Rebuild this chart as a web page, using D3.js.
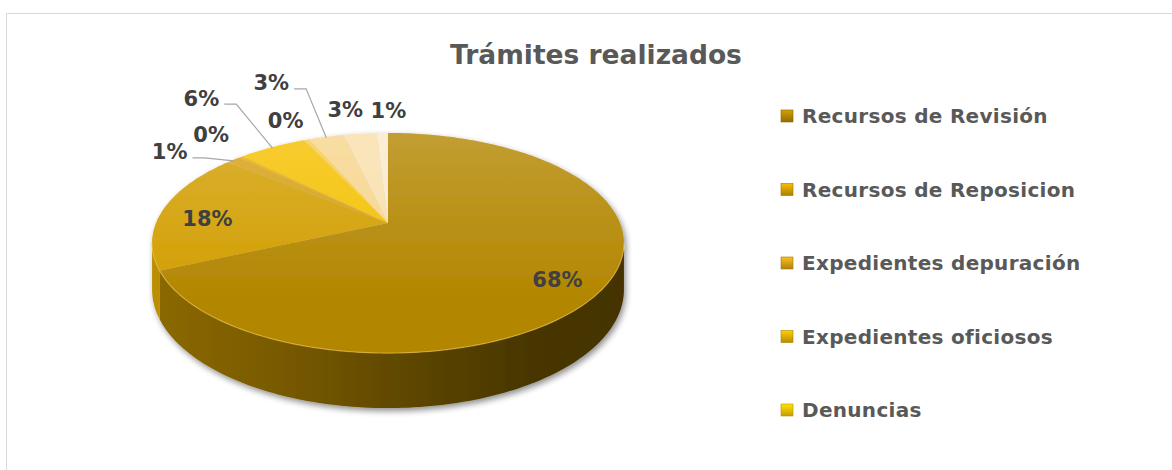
<!DOCTYPE html>
<html>
<head>
<meta charset="utf-8">
<script src="https://cdn.jsdelivr.net/npm/d3@7"></script>
<style>
body { margin: 0; background: #fff; }
svg { display: block; font-family: "DejaVu Sans", sans-serif; }
</style>
</head>
<body>
<svg id="chart"></svg>
<script>
// values (labels are rounded, so the 0% slices keep a sliver)
var categories = ["Recursos de Revisión", "Recursos de Reposicion", "Expedientes depuración",
  "Expedientes oficiosos", "Denuncias", "Categoría 6", "Categoría 7", "Categoría 8", "Categoría 9"];
var values = [68.2, 17.8, 1.2, 0.3, 5.6, 0.4, 2.9, 2.7, 0.9];
var legendCount = 5; // legend in the original is cut after five entries
var title = "Trámites realizados";

// styles, kept apart from the data
var palette = ["#b38600", "#d29e00", "#d6a014", "#e2ad00", "#f5c000", "#f6cc4a", "#f7d58c", "#f9dfab", "#fbe8cb"];
var sideLight = [0.78, 0.9, 0.85, 0.85, 0.85, 0.85, 0.85, 0.85, 0.85];
// Excel-style dragged label nudges (from the rim point of each slice)
var labelNudge = [[0.8], [0.8], [-64, -8], [-30, -22], [-71, -49], [-21, -19], [-55, -54], [-15, -24], [6, -23]];

var width = 1172, height = 470;
var cx = 388, cy = 223, rx = 232, ry = 106.4, persp = 0.182, depth = 45;

var svg = d3.select("#chart")
  .attr("width", width)
  .attr("height", height);

// chart area border (runs off the right and bottom of the picture)
svg.append("rect")
  .attr("x", 6.5).attr("y", 13.5)
  .attr("width", 1200).attr("height", 500)
  .attr("fill", "#fff")
  .attr("stroke", "#d9d9d9");

var defs = svg.append("defs");

var shadow = defs.append("filter").attr("id", "shadow")
  .attr("x", "-10%").attr("y", "-10%").attr("width", "120%").attr("height", "130%");
shadow.append("feGaussianBlur").attr("in", "SourceAlpha").attr("stdDeviation", 3).attr("result", "b");
shadow.append("feOffset").attr("in", "b").attr("dx", 2).attr("dy", 3).attr("result", "o");
shadow.append("feComponentTransfer").attr("in", "o").attr("result", "s")
  .append("feFuncA").attr("type", "linear").attr("slope", 0.45);
var merge = shadow.append("feMerge");
merge.append("feMergeNode").attr("in", "s");
merge.append("feMergeNode").attr("in", "SourceGraphic");

var gloss = defs.append("linearGradient").attr("id", "gloss")
  .attr("gradientUnits", "userSpaceOnUse")
  .attr("x1", 0).attr("y1", 130).attr("x2", 0).attr("y2", 300);
gloss.append("stop").attr("offset", 0).attr("stop-color", "#fff").attr("stop-opacity", 0.2);
gloss.append("stop").attr("offset", 1).attr("stop-color", "#fff").attr("stop-opacity", 0);

// perspective projection of a point on the pie disk
function project(a, r, h) {
  var X = Math.sin(a) * r, Z = Math.cos(a) * r;
  var s = 1 / (1 + persp * Z);
  return [cx + rx * X * s, cy + (-ry * Z + (h || 0)) * s];
}

function arcPoints(a0, a1, r, h) {
  var n = Math.max(2, Math.ceil((a1 - a0) / 0.02));
  return d3.range(n + 1).map(function(i) { return project(a0 + (a1 - a0) * i / n, r, h); });
}

var line = d3.line();

var pie = d3.pie().sort(null).value(function(d) { return d; });
var arcs = pie(values);

// front part of the wall that faces the viewer
var vis0 = Math.acos(-persp), vis1 = 2 * Math.PI - vis0;

var pieG = svg.append("g").attr("filter", "url(#shadow)");

// side walls
arcs.forEach(function(d, i) {
  var b0 = Math.max(d.startAngle, vis0), b1 = Math.min(d.endAngle, vis1);
  if (b1 <= b0) return;
  var base = d3.color(palette[i]);
  var gid = "side" + i;
  var g = defs.append("linearGradient").attr("id", gid)
    .attr("gradientUnits", "userSpaceOnUse")
    .attr("x1", cx - rx * 1.02).attr("y1", 0).attr("x2", cx + rx * 1.02).attr("y2", 0);
  var k = sideLight[i] / 0.78;
  [[0, 0.78], [0.3, 0.66], [0.55, 0.52], [0.8, 0.4], [1, 0.38]].forEach(function(st) {
    var f = st[1] * k;
    var c = d3.rgb(base.r * f, base.g * f, base.b * f);
    g.append("stop").attr("offset", st[0]).attr("stop-color", c.formatHex());
  });
  var pts = arcPoints(b0, b1, 1, 0).concat(arcPoints(b0, b1, 1, depth).reverse());
  pieG.append("path")
    .attr("d", line(pts) + "Z")
    .attr("fill", "url(#" + gid + ")");
});

// top faces
pieG.selectAll("path.top")
  .data(arcs)
  .enter()
  .append("path")
  .attr("class", "top")
  .attr("d", function(d) {
    return line([project(0, 0)].concat(arcPoints(d.startAngle, d.endAngle, 1, 0))) + "Z";
  })
  .attr("fill", function(d, i) { return palette[i]; });

// soft sheen on the top and a light rim on the front edge
pieG.append("path")
  .attr("d", line(arcPoints(0, 2 * Math.PI, 1, 0)) + "Z")
  .attr("fill", "url(#gloss)");
pieG.append("path")
  .attr("d", line(arcPoints(vis0, vis1, 1, 0)))
  .attr("fill", "none")
  .attr("stroke", "#e6bc45")
  .attr("stroke-opacity", 0.7)
  .attr("stroke-width", 1.2);

// data labels
var total = d3.sum(values);
var labelG = svg.append("g")
  .style("font-size", "21px")
  .style("font-weight", "bold")
  .attr("fill", "#404040");

arcs.forEach(function(d, i) {
  var mid = (d.startAngle + d.endAngle) / 2;
  var txt = Math.round(d.value / total * 100) + "%";
  var nudge = labelNudge[i];
  var pos, rim = project(mid, 1, 0);
  if (nudge.length === 1) {
    pos = project(mid, nudge[0], 0);
    pos[1] += 6;
  } else {
    pos = [rim[0] + nudge[0], rim[1] + nudge[1]];
  }
  var t = labelG.append("text")
    .attr("x", pos[0]).attr("y", pos[1])
    .attr("text-anchor", "middle")
    .attr("dy", "0.36em")
    .text(txt);
  if (nudge.length === 2 && Math.hypot(nudge[0], nudge[1]) > 60) {
    var w = t.node().getComputedTextLength();
    var sx = pos[0] + w / 2 + 5, sy = pos[1] + 6;
    svg.append("path")
      .attr("d", line([[sx, sy], [sx + 12, sy], [rim[0], rim[1] + 1]]))
      .attr("fill", "none")
      .attr("stroke", "#a6a6a6")
      .attr("stroke-width", 1.2);
  }
});

// title
svg.append("text")
  .attr("x", 596).attr("y", 64)
  .attr("text-anchor", "middle")
  .style("font-size", "26.5px")
  .style("font-weight", "bold")
  .attr("fill", "#595959")
  .text(title);

// legend
var legendCats = categories.slice(0, legendCount);
var ly = d3.scalePoint().domain(legendCats).range([116, 410]);

legendCats.forEach(function(c, i) {
  var lg = defs.append("linearGradient").attr("id", "lg" + i)
    .attr("x1", 0).attr("y1", 0).attr("x2", 0).attr("y2", 1);
  lg.append("stop").attr("offset", 0).attr("stop-color", d3.color(palette[i]).brighter(0.5).formatHex());
  lg.append("stop").attr("offset", 1).attr("stop-color", d3.color(palette[i]).darker(0.6).formatHex());
});

var legend = svg.append("g")
  .selectAll("g")
  .data(legendCats)
  .enter()
  .append("g")
  .attr("transform", function(d) { return "translate(781," + ly(d) + ")"; });

legend.append("rect")
  .attr("x", 0).attr("y", -6)
  .attr("width", 12).attr("height", 12)
  .attr("fill", function(d, i) { return "url(#lg" + i + ")"; })
  .attr("stroke", function(d, i) { return d3.color(palette[i]).darker(0.8); })
  .attr("stroke-width", 0.6);

legend.append("text")
  .attr("x", 21).attr("y", 0)
  .attr("dy", "0.36em")
  .style("font-size", "20px")
  .style("letter-spacing", "0.3px")
  .style("font-weight", "bold")
  .attr("fill", "#595959")
  .text(function(d) { return d; });
</script>
</body>
</html>
